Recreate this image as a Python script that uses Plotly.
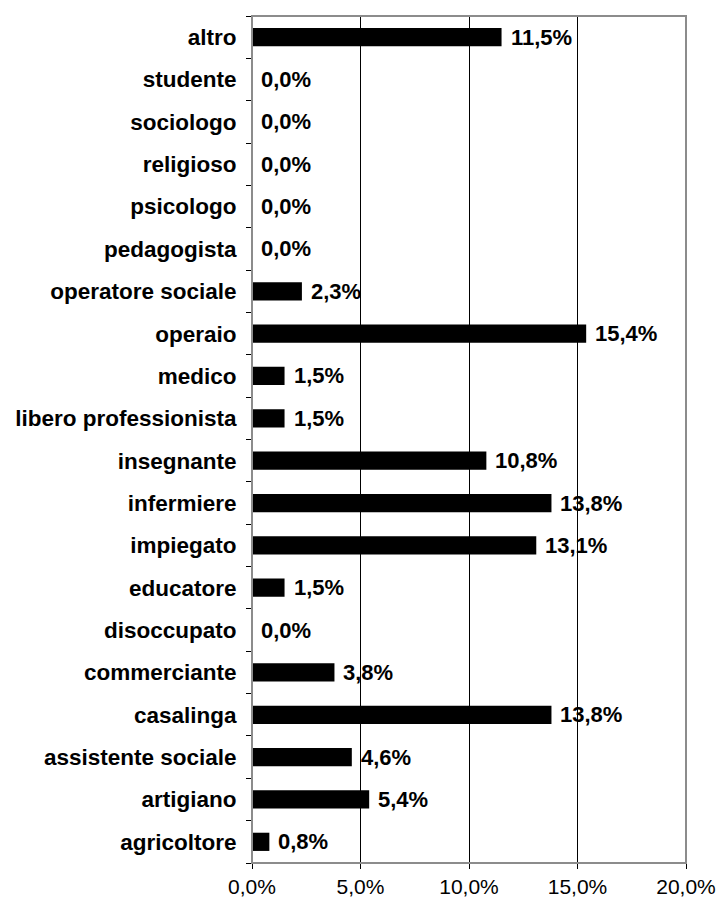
import plotly.graph_objects as go

# Professioni (dal basso verso l'alto) e percentuali
categories = [
    "agricoltore", "artigiano", "assistente sociale", "casalinga",
    "commerciante", "disoccupato", "educatore", "impiegato",
    "infermiere", "insegnante", "libero professionista", "medico",
    "operaio", "operatore sociale", "pedagogista", "psicologo",
    "religioso", "sociologo", "studente", "altro",
]
values = [
    0.8, 5.4, 4.6, 13.8,
    3.8, 0.0, 1.5, 13.1,
    13.8, 10.8, 1.5, 1.5,
    15.4, 2.3, 0.0, 0.0,
    0.0, 0.0, 0.0, 11.5,
]
x_tickvals = [0, 5, 10, 15, 20]
x_ticktext = ["0,0%", "5,0%", "10,0%", "15,0%", "20,0%"]


def pct_label(v):
    return f"{v:.1f}%".replace(".", ",")


FONT = "Liberation Sans, Arial, sans-serif"

fig = go.Figure()
fig.add_trace(go.Bar(
    x=values,
    y=categories,
    orientation="h",
    width=0.43,
    marker=dict(color="#000000", line=dict(width=0)),
    hoverinfo="skip",
))

# Etichette di valore a destra delle barre
for cat, v in zip(categories, values):
    fig.add_annotation(
        x=v, y=cat, text=pct_label(v),
        xanchor="left", yanchor="middle", xshift=7,
        showarrow=False,
        font=dict(family=FONT, size=22, color="#000000", weight="bold"),
    )

# Cornice grigia dell'area del grafico
fig.add_shape(
    type="rect", xref="paper", yref="paper",
    x0=0, x1=1, y0=0, y1=1,
    line=dict(color="#8c8c8c", width=2),
    layer="above",
)

fig.update_layout(
    width=716, height=903,
    margin=dict(l=252, r=30, t=16, b=40),
    paper_bgcolor="#ffffff",
    plot_bgcolor="#ffffff",
    showlegend=False,
    font=dict(family=FONT, color="#000000"),
    xaxis=dict(
        range=[0, 20],
        tickvals=x_tickvals,
        ticktext=x_ticktext,
        ticks="outside", ticklen=5, tickcolor="#000000", tickwidth=1,
        showgrid=True, gridcolor="#000000", gridwidth=1,
        zeroline=False,
        showline=True, linecolor="#000000", linewidth=1,
        tickfont=dict(family=FONT, size=21, color="#000000"),
        automargin=False,
        fixedrange=True,
    ),
    yaxis=dict(
        categoryorder="array", categoryarray=categories,
        ticks="outside", ticklen=5, tickcolor="#000000", tickwidth=1,
        tickson="boundaries",
        showgrid=False, zeroline=False,
        showline=True, linecolor="#000000", linewidth=1,
        tickfont=dict(family=FONT, size=22.5, color="#000000", weight="bold"),
        ticklabelstandoff=10,
        automargin=False,
        fixedrange=True,
    ),
)

fig.write_html("out.html")
